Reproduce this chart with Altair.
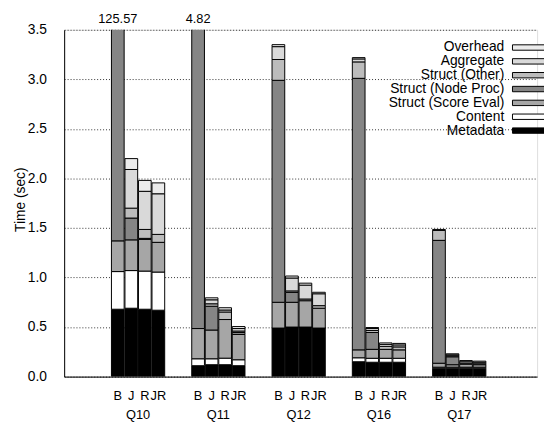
import altair as alt
import pandas as pd

FONT = "Liberation Sans"

queries = ["Q10", "Q11", "Q12", "Q16", "Q17"]
variants = ["B", "J", "R", "JR"]
# legend order (top to bottom)
components = ["Overhead", "Aggregate", "Struct (Other)", "Struct (Node Proc)",
              "Struct (Score Eval)", "Content", "Metadata"]
fills = ["#ececec", "#d9d9d9", "#bcbcbc", "#858585", "#a6a6a6", "#ffffff", "#000000"]

# values per component, order: Q10 B,J,R,JR, Q11 ..., Q17
metadata   = [0.68, 0.69, 0.68, 0.67,  0.11, 0.12, 0.12, 0.11,  0.49, 0.50, 0.50, 0.49,
              0.15, 0.145, 0.145, 0.145,  0.085, 0.085, 0.085, 0.085]
content    = [0.38, 0.38, 0.385, 0.385,  0.07, 0.06, 0.066, 0.06,  0.0, 0.0, 0.0, 0.0,
              0.04, 0.04, 0.04, 0.04,  0.01, 0.01, 0.01, 0.01]
score_eval = [0.31, 0.31, 0.32, 0.30,  0.305, 0.29, 0.39, 0.255,  0.26, 0.25, 0.266, 0.20,
              0.08, 0.09, 0.09, 0.085,  0.04, 0.025, 0.03, 0.025]
node_proc  = [124.2, 0.22, 0.01, 0.0,  4.335, 0.24, 0.0, 0.02,  2.24, 0.10, 0.0, 0.0,
              2.74, 0.17, 0.0, 0.0,  1.24, 0.08, 0.0, 0.0]
struct_oth = [0.0, 0.10, 0.09, 0.08,  0.0, 0.025, 0.076, 0.015,  0.21, 0.015, 0.017, 0.026,
              0.166, 0.02, 0.03, 0.03,  0.10, 0.01, 0.01, 0.01]
aggregate  = [0.0, 0.39, 0.385, 0.41,  0.0, 0.04, 0.02, 0.025,  0.13, 0.13, 0.14, 0.12,
              0.03, 0.02, 0.02, 0.02,  0.0, 0.01, 0.015, 0.015]
overhead   = [0.0, 0.11, 0.11, 0.11,  0.0, 0.02, 0.023, 0.02,  0.02, 0.02, 0.02, 0.015,
              0.013, 0.01, 0.015, 0.015,  0.01, 0.01, 0.012, 0.011]

series = {
    "Metadata": metadata,
    "Content": content,
    "Struct (Score Eval)": score_eval,
    "Struct (Node Proc)": node_proc,
    "Struct (Other)": struct_oth,
    "Aggregate": aggregate,
    "Overhead": overhead,
}
stack_order = list(series.keys())  # Metadata at bottom

trunc_query = ["Q10", "Q11"]
trunc_variant = ["B", "B"]
trunc_label = ["125.57", "4.82"]

rows = []
for comp, vals in series.items():
    for i, v in enumerate(vals):
        rows.append({"query": queries[i // 4], "variant": variants[i % 4],
                     "component": comp, "value": v, "ord": stack_order.index(comp)})
df = pd.DataFrame(rows)
df = df[df["value"] > 0]

var_df = pd.DataFrame([{"query": q, "variant": v} for q in queries for v in variants])
ann_df = pd.DataFrame({"query": trunc_query, "variant": trunc_variant, "label": trunc_label})
leg_df = pd.DataFrame({"component": components})

W, H = 480, 352
xscale = alt.Scale(domain=queries, paddingInner=0.337, paddingOuter=0.6135, align=0.48)
xoff = alt.Scale(domain=variants, paddingInner=0.06, paddingOuter=0)
fill_scale = alt.Scale(domain=components, range=fills)
leg_scale = alt.Scale(domain=components, range=[10.975, 109.325],
                      paddingInner=0.61, paddingOuter=0.305)

bars = alt.Chart(df).mark_bar(stroke="black", strokeWidth=1, clip=True).encode(
    x=alt.X("query:N", scale=xscale,
            axis=alt.Axis(title=None, labelAngle=0, ticks=False, labelPadding=33,
                          labelFontSize=13, labelFont=FONT, labelColor="black",
                          domainColor="black", domainWidth=1)),
    xOffset=alt.XOffset("variant:N", scale=xoff),
    y=alt.Y("value:Q", stack="zero", scale=alt.Scale(domain=[0, 3.5], nice=False),
            axis=alt.Axis(title="Time (sec)", values=[0, 0.5, 1, 1.5, 2, 2.5, 3, 3.5],
                          format=".1f", grid=True, gridDash=[1, 2], gridColor="#333333",
                          gridOpacity=1, ticks=False, labelPadding=18, labelFontSize=14,
                          labelFont=FONT, labelColor="black", domainColor="black",
                          titleFont=FONT, titleFontSize=14, titleFontWeight="normal",
                          titleColor="black", titleX=-44.5, titleY=172,
                          titleBaseline="middle", titleAlign="center")),
    fill=alt.Fill("component:N", scale=fill_scale, legend=None),
    order=alt.Order("ord:Q"),
)

var_text = alt.Chart(var_df).mark_text(fontSize=13, font=FONT, baseline="middle", color="black").encode(
    x=alt.X("query:N", scale=xscale),
    xOffset=alt.XOffset("variant:N", scale=xoff),
    y=alt.value(H + 20),
    text="variant:N",
)

ann = alt.Chart(ann_df).mark_text(fontSize=13, font=FONT, baseline="middle", color="black").encode(
    x=alt.X("query:N", scale=xscale),
    xOffset=alt.XOffset("variant:N", scale=xoff),
    y=alt.value(-11),
    text="label:N",
)

leg_text = alt.Chart(leg_df).mark_text(fontSize=14, font=FONT, align="right",
                                       baseline="middle", color="black").encode(
    x=alt.value(446.7),
    y=alt.Y("component:N", scale=leg_scale, axis=None),
    text="component:N",
)

leg_sym = alt.Chart(leg_df).mark_rect(stroke="black", strokeWidth=1).encode(
    x=alt.value(455),
    x2=alt.value(492),
    y=alt.Y("component:N", scale=leg_scale, axis=None),
    fill=alt.Fill("component:N", scale=fill_scale, legend=None),
)

chart = alt.layer(bars, var_text, ann, leg_text, leg_sym).resolve_scale(
    y="independent"
).properties(
    width=W, height=H,
    autosize="none",
    padding={"left": 57, "top": 19, "right": 7, "bottom": 45},
).configure_view(stroke=None).configure(font=FONT)

chart.save("out.html", embed_options={"renderer": "svg", "actions": False})
